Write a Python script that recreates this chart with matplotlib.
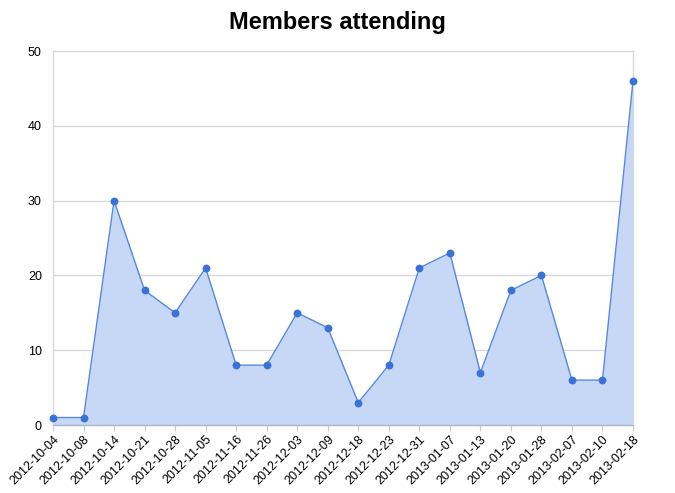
import matplotlib
matplotlib.use("Agg")
import matplotlib.pyplot as plt

dates = ["2012-10-04", "2012-10-08", "2012-10-14", "2012-10-21", "2012-10-28",
         "2012-11-05", "2012-11-16", "2012-11-26", "2012-12-03", "2012-12-09",
         "2012-12-18", "2012-12-23", "2012-12-31", "2013-01-07", "2013-01-13",
         "2013-01-20", "2013-01-28", "2013-02-07", "2013-02-10", "2013-02-18"]
members = [1, 1, 30, 18, 15, 21, 8, 8, 15, 13, 3, 8, 21, 23, 7, 18, 20, 6, 6, 46]
yticks = [0, 10, 20, 30, 40, 50]

plt.rcParams['font.family'] = ['Liberation Sans', 'DejaVu Sans']

fig = plt.figure(figsize=(6.75, 4.93), dpi=100)
ax = fig.add_axes([53/675, 68/493, 580/675, 374/493])

x = list(range(len(dates)))
line_color = "#3a72d6"
ax.fill_between(x, members, 0, color="#c6d8f6", zorder=2, linewidth=0)
ax.plot(x, members, color="#5588e0", linewidth=1.0, zorder=3)
ax.scatter(x, members, s=32, color=line_color, zorder=4, linewidths=0, clip_on=False)

ax.set_xlim(0, len(dates) - 1)
ax.set_ylim(0, 50)
ax.set_yticks(yticks)
ax.set_yticklabels([str(v) for v in yticks], fontsize=9)
ax.yaxis.grid(True, color="#d9d9d9", linewidth=1, zorder=0)
ax.tick_params(axis='y', length=0, pad=8)

ax.set_xticks(x)
ax.set_xticklabels(dates, rotation=45, ha='right', rotation_mode='anchor', fontsize=9)
ax.tick_params(axis='x', length=4, color="#cccccc", pad=2)

for s in ['top', 'left', 'right']:
    ax.spines[s].set_color("#d9d9d9")
    ax.spines[s].set_linewidth(1)
ax.spines['bottom'].set_color("#aab4c8")
ax.spines['bottom'].set_linewidth(1)
ax.set_axisbelow(True)

fig.text(0.5, 1 - 22/493, "Members attending", ha='center', va='center',
         fontsize=17, fontweight='bold')

fig.savefig("out.png", dpi=100)
